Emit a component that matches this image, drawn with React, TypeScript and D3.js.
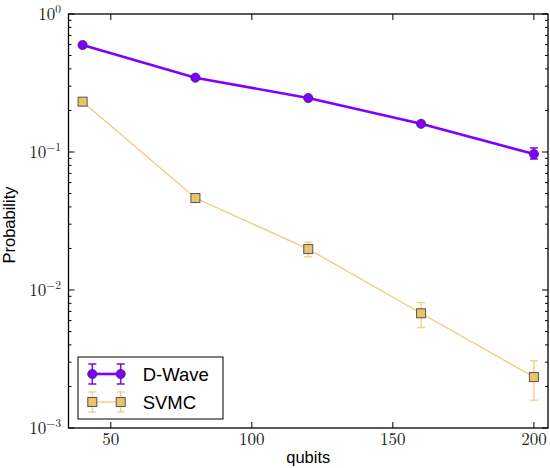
import React from "react";
import * as d3 from "d3";

const qubits = [40, 80, 120, 160, 200];
const dwave = [0.596, 0.3456, 0.246, 0.16, 0.0967];
const dwaveLo = [0.585, 0.338, 0.24, 0.155, 0.089];
const dwaveHi = [0.607, 0.353, 0.252, 0.165, 0.107];
const svmc = [0.2316, 0.0464, 0.0198, 0.00678, 0.00234];
const svmcLo = [0.225, 0.044, 0.0174, 0.00533, 0.00159];
const svmcHi = [0.238, 0.049, 0.0222, 0.0081, 0.00307];
const xTicks = [50, 100, 150, 200];
const yDecades = [-3, -2, -1, 0];
const seriesNames = ["D-Wave", "SVMC"];

const W = 550, H = 468;
const L = 68.5, R = 548, T = 14, B = 428;

export default function App() {
  const x = d3.scaleLinear().domain([35, 205]).range([L, R]);
  const y = d3.scaleLog().domain([1e-3, 1]).range([B, T]);
  const line = d3.line<[number, number]>().x(d => x(d[0])).y(d => y(d[1]));
  const dPts = qubits.map((q, i) => [q, dwave[i]] as [number, number]);
  const sPts = qubits.map((q, i) => [q, svmc[i]] as [number, number]);
  const purple = "#7f00ff";
  const gold = "#f2c97a";
  const goldFill = "#ebc36b";
  const minor: number[] = [];
  for (let e = -3; e < 0; e++) for (let k = 2; k <= 9; k++) minor.push(k * Math.pow(10, e));
  const serif = "'Latin Modern Roman','DejaVu Serif','Liberation Serif',serif";
  const sans = "'Liberation Sans', Arial, sans-serif";

  return (
    <svg width={W} height={H} style={{ display: "block", position: "absolute", left: 0, top: 0 }}>
      <rect x={0} y={0} width={W} height={H} fill="#fff" />
      {/* SVMC error bars */}
      {qubits.map((q, i) => (
        <g key={"se" + i} stroke={gold} strokeWidth={1.2}>
          <line x1={x(q)} x2={x(q)} y1={y(svmcLo[i])} y2={y(svmcHi[i])} />
          <line x1={x(q) - 4} x2={x(q) + 4} y1={y(svmcLo[i])} y2={y(svmcLo[i])} />
          <line x1={x(q) - 4} x2={x(q) + 4} y1={y(svmcHi[i])} y2={y(svmcHi[i])} />
        </g>
      ))}
      <path d={line(sPts) || ""} fill="none" stroke={gold} strokeWidth={1.3} />
      {sPts.map((p, i) => (
        <rect key={"sm" + i} x={x(p[0]) - 4.5} y={y(p[1]) - 4.5} width={9} height={9} fill={goldFill} stroke="#555" strokeWidth={1} />
      ))}
      {/* D-Wave */}
      {qubits.map((q, i) => (
        <g key={"de" + i} stroke={purple} strokeWidth={1.5}>
          <line x1={x(q)} x2={x(q)} y1={y(dwaveLo[i])} y2={y(dwaveHi[i])} />
          <line x1={x(q) - 4} x2={x(q) + 4} y1={y(dwaveLo[i])} y2={y(dwaveLo[i])} />
          <line x1={x(q) - 4} x2={x(q) + 4} y1={y(dwaveHi[i])} y2={y(dwaveHi[i])} />
        </g>
      ))}
      <path d={line(dPts) || ""} fill="none" stroke={purple} strokeWidth={2.6} />
      {dPts.map((p, i) => (
        <circle key={"dm" + i} cx={x(p[0])} cy={y(p[1])} r={4.6} fill={purple} stroke="#3a2a55" strokeWidth={0.8} />
      ))}
      {/* axes frame */}
      <rect x={L} y={T} width={R - L} height={B - T} fill="none" stroke="#000" strokeWidth={1.3} />
      {/* x ticks */}
      {xTicks.map(t => (
        <g key={"xt" + t}>
          <line x1={x(t)} x2={x(t)} y1={B} y2={B - 6} stroke="#000" />
          <line x1={x(t)} x2={x(t)} y1={T} y2={T + 6} stroke="#000" />
          <text x={x(t)} y={B + 17} textAnchor="middle" fontFamily={serif} fontSize={17} fill="#222">{t}</text>
        </g>
      ))}
      {/* y ticks */}
      {yDecades.map(e => (
        <g key={"yt" + e}>
          <line x1={L} x2={L + 6} y1={y(Math.pow(10, e))} y2={y(Math.pow(10, e))} stroke="#000" />
          <line x1={R} x2={R - 6} y1={y(Math.pow(10, e))} y2={y(Math.pow(10, e))} stroke="#000" />
          <text x={61} y={y(Math.pow(10, e)) + 6} textAnchor="end" fontFamily={serif} fontSize={17} fill="#222">
            10<tspan dy={-7} fontSize={11.5}>{e === 0 ? "0" : "\u2212" + Math.abs(e)}</tspan>
          </text>
        </g>
      ))}
      {minor.map((v, i) => (
        <g key={"mn" + i} stroke="#000">
          <line x1={L} x2={L + 3} y1={y(v)} y2={y(v)} />
          <line x1={R} x2={R - 3} y1={y(v)} y2={y(v)} />
        </g>
      ))}
      {/* axis labels */}
      <text x={(L + R) / 2} y={463} textAnchor="middle" fontFamily={sans} fontSize={16.5} fill="#000">qubits</text>
      <text transform={`translate(15,225) rotate(-90)`} textAnchor="middle" fontFamily={sans} fontSize={16.5} fill="#000">Probability</text>
      {/* legend */}
      <rect x={78} y={357} width={145} height={62} fill="#fff" stroke="#000" strokeWidth={1} />
      {seriesNames.map((n, i) => {
        const ly = 374 + i * 28;
        const x1 = 92.3, x2 = 120.7;
        const isD = i === 0;
        const c = isD ? purple : gold;
        return (
          <g key={"lg" + i}>
            {[x1, x2].map((xx, j) => (
              <g key={j} stroke={c} strokeWidth={isD ? 1.5 : 1.2}>
                <line x1={xx} x2={xx} y1={ly - 10} y2={ly + 10} />
                <line x1={xx - 4} x2={xx + 4} y1={ly - 10} y2={ly - 10} />
                <line x1={xx - 4} x2={xx + 4} y1={ly + 10} y2={ly + 10} />
              </g>
            ))}
            <line x1={x1} x2={x2} y1={ly} y2={ly} stroke={c} strokeWidth={isD ? 2.6 : 1.3} />
            {[x1, x2].map((xx, j) =>
              isD ? (
                <circle key={"m" + j} cx={xx} cy={ly} r={4.6} fill={purple} stroke="#3a2a55" strokeWidth={0.8} />
              ) : (
                <rect key={"m" + j} x={xx - 4.5} y={ly - 4.5} width={9} height={9} fill={goldFill} stroke="#555" strokeWidth={1} />
              )
            )}
            <text x={142.7} y={ly + 6.5} fontFamily={sans} fontSize={18.5} fill="#000">{n}</text>
          </g>
        );
      })}
    </svg>
  );
}
